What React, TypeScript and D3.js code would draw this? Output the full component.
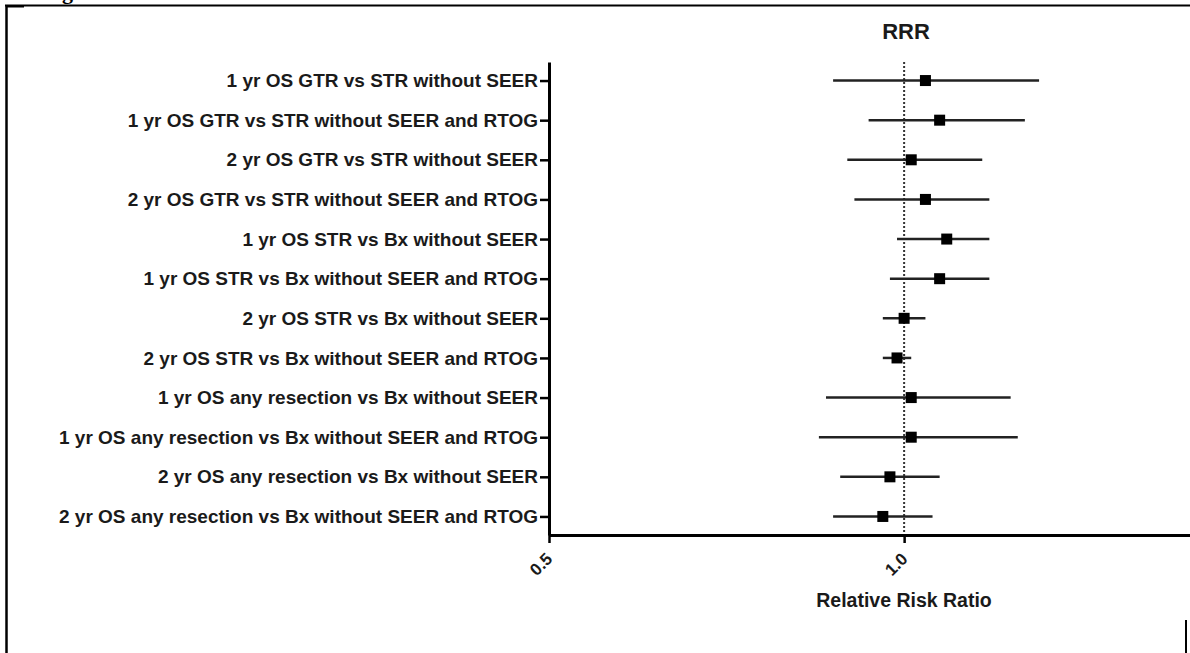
import React, { useEffect, useRef } from 'react';
import * as d3 from 'd3';

const W = 1190, H = 653;
const FONT = '"Liberation Sans", Arial, sans-serif';

const labels = [
  '1 yr OS GTR vs STR without SEER',
  '1 yr OS GTR vs STR without SEER and RTOG',
  '2 yr OS GTR vs STR without SEER',
  '2 yr OS GTR vs STR without SEER and RTOG',
  '1 yr OS STR vs Bx without SEER',
  '1 yr OS STR vs Bx without SEER and RTOG',
  '2 yr OS STR vs Bx without SEER',
  '2 yr OS STR vs Bx without SEER and RTOG',
  '1 yr OS any resection vs Bx without SEER',
  '1 yr OS any resection vs Bx without SEER and RTOG',
  '2 yr OS any resection vs Bx without SEER',
  '2 yr OS any resection vs Bx without SEER and RTOG',
];
const estimate = [1.03, 1.05, 1.01, 1.03, 1.06, 1.05, 1.0, 0.99, 1.01, 1.01, 0.98, 0.97];
const lower = [0.9, 0.95, 0.92, 0.93, 0.99, 0.98, 0.97, 0.97, 0.89, 0.88, 0.91, 0.9];
const upper = [1.19, 1.17, 1.11, 1.12, 1.12, 1.12, 1.03, 1.01, 1.15, 1.16, 1.05, 1.04];
const xTicks = [0.5, 1.0];

export default function App() {
  const ref = useRef<SVGSVGElement>(null);

  useEffect(() => {
    const svg = d3.select(ref.current);
    svg.selectAll('*').remove();

    const x = d3.scaleLinear().domain([0.5, 1.4025]).range([549, 1190]);
    const y = d3.scalePoint<string>().domain(labels).range([62, 535]).padding(0.468);
    const rows = labels.map((l, i) => ({ l, est: estimate[i], lo: lower[i], hi: upper[i] }));

    // page frame
    svg.append('line').attr('x1', 5).attr('x2', W).attr('y1', 5.5).attr('y2', 5.5)
      .attr('stroke', '#000').attr('stroke-width', 2);
    svg.append('line').attr('x1', 6.5).attr('x2', 6.5).attr('y1', 5).attr('y2', H)
      .attr('stroke', '#000').attr('stroke-width', 2.5);
    svg.append('line').attr('x1', 6).attr('x2', 24).attr('y1', 6.5).attr('y2', 6.5)
      .attr('stroke', '#000').attr('stroke-width', 2);
    svg.append('line').attr('x1', 1186).attr('x2', 1186).attr('y1', 620).attr('y2', H)
      .attr('stroke', '#000').attr('stroke-width', 2);
    svg.append('text').attr('x', 62).attr('y', -1)
      .attr('font-family', '"Liberation Serif", serif').attr('font-weight', 'bold')
      .attr('font-size', 22).text('g');

    // reference line at 1.0
    svg.append('line')
      .attr('x1', x(1)).attr('x2', x(1)).attr('y1', 62).attr('y2', 535)
      .attr('stroke', '#333').attr('stroke-width', 2).attr('stroke-dasharray', '2,2');

    // y axis
    const yAxis = svg.append('g').attr('transform', `translate(${x(0.5)},0)`)
      .call(d3.axisLeft(y).tickSize(9).tickSizeOuter(0).tickPadding(2));
    yAxis.select('.domain').attr('stroke', '#000').attr('stroke-width', 3);
    yAxis.selectAll('.tick line').attr('stroke', '#000').attr('stroke-width', 2.5);
    yAxis.selectAll('text').attr('fill', '#1a1a1a').attr('font-size', 19)
      .attr('font-weight', 'bold').attr('font-family', FONT);

    // x axis
    const xAxis = svg.append('g').attr('transform', 'translate(0,535)')
      .call(d3.axisBottom(x).tickValues(xTicks).tickSize(8).tickSizeOuter(0).tickFormat(d3.format('.1f')));
    xAxis.select('.domain').attr('stroke', '#000').attr('stroke-width', 3);
    xAxis.selectAll('.tick line').attr('stroke', '#000').attr('stroke-width', 2.5);
    xAxis.selectAll('text')
      .attr('x', 0).attr('y', 0).attr('dy', 0)
      .attr('text-anchor', 'end')
      .attr('transform', 'translate(4,25) rotate(-45)')
      .attr('fill', '#1a1a1a').attr('font-size', 17).attr('font-weight', 'bold').attr('font-family', FONT);

    // error bars
    svg.append('g').selectAll('line').data(rows).join('line')
      .attr('x1', d => x(d.lo)).attr('x2', d => x(d.hi))
      .attr('y1', d => y(d.l)!).attr('y2', d => y(d.l)!)
      .attr('stroke', '#222').attr('stroke-width', 2.5);

    const S = 11;
    svg.append('g').selectAll('rect').data(rows).join('rect')
      .attr('x', d => x(d.est) - S / 2).attr('y', d => y(d.l)! - S / 2)
      .attr('width', S).attr('height', S).attr('fill', '#000');

    // titles
    svg.append('text').attr('x', 906).attr('y', 39).attr('text-anchor', 'middle')
      .attr('font-family', FONT).attr('font-weight', 'bold').attr('font-size', 22)
      .attr('fill', '#1a1a1a').text('RRR');
    svg.append('text').attr('x', 904).attr('y', 607).attr('text-anchor', 'middle')
      .attr('font-family', FONT).attr('font-weight', 'bold').attr('font-size', 19.5)
      .attr('fill', '#1a1a1a').text('Relative Risk Ratio');
  }, []);

  return (
    <svg ref={ref} width={W} height={H}
      style={{ position: 'absolute', left: 0, top: 0, background: '#fff' }} />
  );
}
